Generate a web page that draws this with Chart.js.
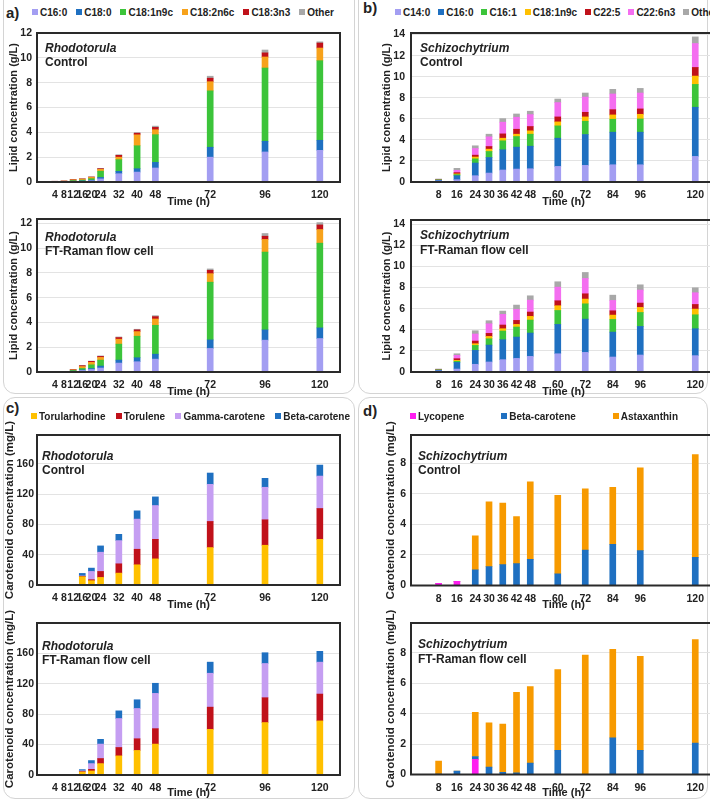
<!DOCTYPE html>
<html>
<head>
<meta charset="utf-8">
<title>Lipid and carotenoid time courses</title>
<script src="https://cdn.jsdelivr.net/npm/chart.js@4/dist/chart.umd.min.js"></script>
<style>
  body { margin: 0; width: 710px; height: 800px; overflow: hidden; background: #fff; position: relative;
         font-family: 'Liberation Sans', Arial, sans-serif; color: #222; }
  canvas { position: absolute; }
  .frame { position: absolute; border: 1px solid #d4d4d4; border-radius: 12px; }
  .plabel { position: absolute; font-weight: bold; font-size: 15px; line-height: 16px; }
  .legend { position: absolute; display: flex; justify-content: space-between; font-weight: bold;
            font-size: 10px; line-height: 12px; white-space: nowrap; }
  .legend .sw { display: inline-block; width: 6px; height: 6px; margin-right: 2px; vertical-align: 1px; }
</style>
</head>
<body>
<div class="frame" style="left:3px;top:-14px;width:350px;height:406px"></div>
<div class="frame" style="left:358px;top:-14px;width:348px;height:406px"></div>
<div class="frame" style="left:3px;top:397px;width:350px;height:400px"></div>
<div class="frame" style="left:358px;top:397px;width:348px;height:400px"></div>
<div class="plabel" style="left:6px;top:5px">a)</div>
<div class="plabel" style="left:363px;top:0px">b)</div>
<div class="plabel" style="left:6px;top:400px">c)</div>
<div class="plabel" style="left:363px;top:403px">d)</div>

<script>
// sampling times (h)
const rhoTimes = [4, 8, 12, 16, 20, 24, 32, 40, 48, 72, 96, 120];
const schTimes = [8, 16, 24, 30, 36, 42, 48, 60, 72, 84, 96, 120];

// y tick labels
const rhoLipidTicks = [0, 2, 4, 6, 8, 10, 12];
const schLipidTicks = [0, 2, 4, 6, 8, 10, 12, 14];
const rhoCaroTicks = [0, 40, 80, 120, 160];
const schCaroTicks = [0, 2, 4, 6, 8];

// a) Rhodotorula lipids (g/L)
const rhoFaNames = ['C16:0', 'C18:0', 'C18:1n9c', 'C18:2n6c', 'C18:3n3', 'Other'];
const rhoFaColors = ['#a39ef2', '#1f70c1', '#3cc43a', '#f7a21b', '#c0111a', '#a8a8a8'];
const rhoCtrlC16_0 = [0.02, 0.03, 0.05, 0.06, 0.1, 0.25, 0.67, 0.8, 1.13, 2.0, 2.42, 2.55];
const rhoCtrlC18_0 = [0.01, 0.01, 0.02, 0.03, 0.05, 0.12, 0.19, 0.27, 0.45, 0.8, 0.86, 0.81];
const rhoCtrlC18_1 = [0.01, 0.01, 0.04, 0.06, 0.12, 0.5, 0.94, 1.85, 2.23, 4.54, 5.9, 6.41];
const rhoCtrlC18_2 = [0.01, 0.02, 0.06, 0.08, 0.1, 0.15, 0.2, 0.88, 0.4, 0.74, 0.89, 1.02];
const rhoCtrlC18_3 = [0.01, 0.01, 0.02, 0.02, 0.03, 0.05, 0.15, 0.13, 0.19, 0.28, 0.33, 0.4];
const rhoCtrlOther = [0, 0, 0.01, 0.01, 0.02, 0.03, 0.05, 0.05, 0.1, 0.16, 0.23, 0.1];
const rhoFtC16_0 = [0.01, 0.02, 0.05, 0.12, 0.2, 0.32, 0.72, 0.83, 1.04, 1.9, 2.57, 2.7];
const rhoFtC18_0 = [0.005, 0.01, 0.02, 0.05, 0.08, 0.16, 0.24, 0.32, 0.4, 0.69, 0.83, 0.86];
const rhoFtC18_1 = [0.005, 0.01, 0.05, 0.12, 0.3, 0.48, 1.29, 1.74, 2.33, 4.66, 6.28, 6.84];
const rhoFtC18_2 = [0.005, 0.01, 0.05, 0.15, 0.2, 0.22, 0.4, 0.37, 0.51, 0.69, 1.02, 1.1];
const rhoFtC18_3 = [0.003, 0.005, 0.02, 0.07, 0.08, 0.08, 0.13, 0.14, 0.19, 0.27, 0.26, 0.37];
const rhoFtOther = [0, 0, 0.01, 0.02, 0.02, 0.04, 0.05, 0.05, 0.08, 0.11, 0.22, 0.19];

// b) Schizochytrium lipids (g/L)
const schFaNames = ['C14:0', 'C16:0', 'C16:1', 'C18:1n9c', 'C22:5', 'C22:6n3', 'Other'];
const schFaColors = ['#a39ef2', '#1f70c1', '#3cc43a', '#ffc000', '#c0111a', '#f46ef0', '#a8a8a8'];
const schCtrlC14_0 = [0.1, 0.22, 0.6, 0.85, 1.14, 1.23, 1.26, 1.48, 1.58, 1.64, 1.64, 2.43];
const schCtrlC16_0 = [0.08, 0.38, 1.2, 1.48, 1.92, 2.08, 2.14, 2.68, 2.93, 3.09, 3.09, 4.67];
const schCtrlC16_1 = [0.02, 0.1, 0.4, 0.57, 0.85, 1.01, 1.14, 1.17, 1.26, 1.23, 1.26, 2.17];
const schCtrlC18_1 = [0.01, 0.07, 0.17, 0.22, 0.25, 0.22, 0.32, 0.38, 0.41, 0.41, 0.44, 0.79];
const schCtrlC22_5 = [0.02, 0.12, 0.18, 0.25, 0.41, 0.47, 0.41, 0.47, 0.44, 0.5, 0.51, 0.82];
const schCtrlC22_6 = [0.03, 0.22, 0.63, 0.92, 1.11, 1.14, 1.13, 1.36, 1.45, 1.49, 1.51, 2.27];
const schCtrlOther = [0.02, 0.19, 0.26, 0.25, 0.34, 0.31, 0.32, 0.34, 0.38, 0.44, 0.44, 0.63];
const schFtC14_0 = [0.1, 0.28, 0.73, 0.95, 1.17, 1.29, 1.48, 1.73, 1.86, 1.42, 1.61, 1.55];
const schFtC16_0 = [0.08, 0.63, 1.32, 1.6, 1.89, 2.02, 2.21, 2.78, 3.15, 2.36, 2.71, 2.55];
const schFtC16_1 = [0.02, 0.1, 0.47, 0.6, 0.82, 0.95, 1.23, 1.32, 1.45, 1.2, 1.32, 1.32];
const schFtC18_1 = [0.01, 0.09, 0.16, 0.22, 0.22, 0.25, 0.35, 0.45, 0.45, 0.41, 0.48, 0.54];
const schFtC22_5 = [0.02, 0.16, 0.25, 0.29, 0.35, 0.38, 0.41, 0.47, 0.5, 0.41, 0.41, 0.44];
const schFtC22_6 = [0.03, 0.32, 0.67, 0.91, 1.01, 1.04, 1.13, 1.29, 1.45, 0.98, 1.23, 1.11];
const schFtOther = [0.02, 0.15, 0.31, 0.29, 0.31, 0.41, 0.41, 0.51, 0.57, 0.5, 0.5, 0.47];

// c) Rhodotorula carotenoids (mg/L)
const rhoCarNames = ['Torularhodine', 'Torulene', 'Gamma-carotene', 'Beta-carotene'];
const rhoCarColors = ['#ffc000', '#c0111a', '#c59ef2', '#1f70c1'];
const rhoCtrlTorularhodine = [0, 0, 0, 11, 5.7, 10, 15.7, 26.7, 34.5, 49.4, 52.5, 60.3];
const rhoCtrlTorulene = [0, 0, 0, 0.5, 1.3, 7.9, 12.3, 20.5, 25.8, 34.5, 33.6, 40.7];
const rhoCtrlGamma = [0, 0, 0, 0.5, 10.9, 25.4, 30.6, 39.8, 44.6, 49, 42.9, 42.8];
const rhoCtrlBeta = [0, 0, 0, 3.3, 4.4, 8.3, 8.3, 10.9, 11.4, 14.9, 11.8, 14.5];
const rhoFtTorularhodine = [0, 0, 0, 4, 5.3, 15, 25.2, 32.3, 40.7, 60.1, 69, 71.2];
const rhoFtTorulene = [0, 0, 0, 0.5, 2.2, 6.7, 11, 15.4, 20.3, 29.2, 32.7, 35.3];
const rhoFtGamma = [0, 0, 0, 1, 7.5, 19, 38.1, 39.8, 46.4, 44.6, 45, 42];
const rhoFtBeta = [0, 0, 0, 1.6, 4, 6.2, 10.1, 11.5, 13.3, 14.6, 14.2, 14.2];

// d) Schizochytrium carotenoids (mg/L)
const schCarNames = ['Lycopene', 'Beta-carotene', 'Astaxanthin'];
const schCarColors = ['#ff1ef0', '#1f70c1', '#f79a00'];
const schCtrlLycopene = [0.15, 0.28, 0, 0, 0, 0, 0, 0, 0, 0, 0, 0];
const schCtrlBeta = [0, 0, 1.02, 1.24, 1.37, 1.43, 1.71, 0.76, 2.32, 2.69, 2.28, 1.84];
const schCtrlAstaxanthin = [0, 0, 2.23, 4.23, 4.03, 3.08, 5.08, 5.14, 4.01, 3.73, 5.42, 6.73];
const schFtLycopene = [0, 0, 0.99, 0, 0, 0, 0, 0, 0, 0, 0, 0];
const schFtBeta = [0.03, 0.22, 0.19, 0.48, 0.15, 0.11, 0.75, 1.58, 0, 2.41, 1.58, 2.06];
const schFtAstaxanthin = [0.85, 0, 2.9, 2.92, 3.16, 5.28, 5.02, 5.31, 7.85, 5.81, 6.18, 6.8];

const FAMILY = "'Liberation Sans', Arial, sans-serif";
const NARROW = "'Liberation Sans Narrow', 'Arial Narrow', 'Liberation Sans', Arial, sans-serif";

// draws the black frame round the plot and the organism / condition text
const boxPlugin = {
  id: 'box',
  afterDatasetsDraw(chart, args, opts) {
    const { ctx, chartArea: a } = chart;
    ctx.save();
    ctx.strokeStyle = '#2a2a2a';
    ctx.lineWidth = 2;
    ctx.strokeRect(a.left, a.top, a.right - a.left, a.bottom - a.top);
    ctx.fillStyle = '#222';
    ctx.textBaseline = 'middle';
    ctx.font = 'italic bold 12px ' + FAMILY;
    ctx.fillText(opts.genus, a.left + opts.dx, a.top + opts.dy1);
    ctx.font = 'bold 12px ' + FAMILY;
    ctx.fillText(opts.cond, a.left + opts.dx, a.top + opts.dy2);
    ctx.restore();
  }
};

function makeLegend(names, colors, left, right, top) {
  const div = document.createElement('div');
  div.className = 'legend';
  div.style.left = left + 'px';
  div.style.top = top + 'px';
  div.style.width = (right - left) + 'px';
  names.forEach((n, i) => {
    const item = document.createElement('span');
    item.innerHTML = '<span class="sw" style="background:' + colors[i] + '"></span>' + n;
    div.appendChild(item);
  });
  document.body.appendChild(div);
}

function makePanel(p) {
  const cv = document.createElement('canvas');
  cv.width = p.cw;
  cv.height = p.ch;
  cv.style.left = p.cx + 'px';
  cv.style.top = p.cy + 'px';
  document.body.appendChild(cv);

  new Chart(cv, {
    type: 'bar',
    data: {
      datasets: p.series.map((s, i) => ({
        label: p.names[i],
        data: p.times.map((t, j) => ({ x: t, y: s[j] })),
        backgroundColor: p.colors[i],
        borderWidth: 0,
        barThickness: 6
      }))
    },
    options: {
      responsive: false,
      animation: false,
      layout: { padding: { top: p.box.t - p.cy, right: p.cx + p.cw - p.box.r, left: 0, bottom: 0 } },
      plugins: {
        legend: { display: false },
        tooltip: { enabled: false },
        box: { genus: p.genus, cond: p.cond, dx: p.tx, dy1: p.ty1, dy2: p.ty2 }
      },
      scales: {
        x: {
          type: 'linear',
          stacked: true,
          bounds: 'data',
          min: p.xmin,
          max: p.xmax,
          grid: { display: false, drawTicks: false, tickLength: 0 },
          border: { display: false },
          afterBuildTicks: (s) => { s.ticks = p.times.map(v => ({ value: v })); },
          afterFit: (s) => { s.height = p.cy + p.ch - p.box.b; },
          ticks: { autoSkip: false, maxRotation: 0, padding: 7, color: '#222',
                   font: { family: NARROW, size: 10.5, weight: 'bold' } },
          title: { display: true, text: 'Time (h)', color: '#222', padding: { top: 0, bottom: 0 },
                   font: { family: FAMILY, size: 11, weight: 'bold' } }
        },
        y: {
          stacked: true,
          bounds: 'data',
          min: 0,
          max: p.ymax,
          grid: { color: '#e3e3e3', drawTicks: false },
          border: { display: false },
          afterBuildTicks: (s) => { s.ticks = p.yticks.map(v => ({ value: v })); },
          afterFit: (s) => { s.width = p.box.l - p.cx; },
          ticks: { padding: p.tickPad, color: '#222', font: { family: NARROW, size: 10.5, weight: 'bold' } },
          title: { display: true, text: p.ytitle, color: '#222', padding: { top: p.titlePad, bottom: 0 },
                   font: { family: FAMILY, size: p.titleSize, weight: 'bold' } }
        }
      }
    },
    plugins: [boxPlugin]
  });
}

const lipidTitle = 'Lipid concentration (g/L)';
const caroTitle = 'Carotenoid concentration (mg/L)';

// a) top: Rhodotorula control
makePanel({
  cx: 0, cy: 20, cw: 355, ch: 189, box: { l: 37, t: 33, r: 340, b: 182 },
  times: rhoTimes, xmin: 1.7, xmax: 123.3, ymax: 12, yticks: rhoLipidTicks,
  names: rhoFaNames, colors: rhoFaColors,
  series: [rhoCtrlC16_0, rhoCtrlC18_0, rhoCtrlC18_1, rhoCtrlC18_2, rhoCtrlC18_3, rhoCtrlOther],
  ytitle: lipidTitle, titleSize: 11, titlePad: 7, tickPad: 5,
  genus: 'Rhodotorula', cond: 'Control', tx: 8, ty1: 16, ty2: 30
});
// a) bottom: Rhodotorula FT-Raman
makePanel({
  cx: 0, cy: 205, cw: 355, ch: 194, box: { l: 37, t: 219, r: 340, b: 372 },
  times: rhoTimes, xmin: 1.7, xmax: 123.3, ymax: 12.35, yticks: rhoLipidTicks,
  names: rhoFaNames, colors: rhoFaColors,
  series: [rhoFtC16_0, rhoFtC18_0, rhoFtC18_1, rhoFtC18_2, rhoFtC18_3, rhoFtOther],
  ytitle: lipidTitle, titleSize: 11, titlePad: 7, tickPad: 5,
  genus: 'Rhodotorula', cond: 'FT-Raman flow cell', tx: 8, ty1: 18.5, ty2: 33
});
// b) top: Schizochytrium control
makePanel({
  cx: 355, cy: 20, cw: 380, ch: 189, box: { l: 411, t: 33, r: 716, b: 182 },
  times: schTimes, xmin: 1.5, xmax: 123.5, ymax: 14.15, yticks: schLipidTicks,
  names: schFaNames, colors: schFaColors,
  series: [schCtrlC14_0, schCtrlC16_0, schCtrlC16_1, schCtrlC18_1, schCtrlC22_5, schCtrlC22_6, schCtrlOther],
  ytitle: lipidTitle, titleSize: 11, titlePad: 25, tickPad: 6,
  genus: 'Schizochytrium', cond: 'Control', tx: 9, ty1: 15.5, ty2: 30
});
// b) bottom: Schizochytrium FT-Raman
makePanel({
  cx: 355, cy: 205, cw: 380, ch: 194, box: { l: 411, t: 220, r: 716, b: 372 },
  times: schTimes, xmin: 1.5, xmax: 123.5, ymax: 14.4, yticks: schLipidTicks,
  names: schFaNames, colors: schFaColors,
  series: [schFtC14_0, schFtC16_0, schFtC16_1, schFtC18_1, schFtC22_5, schFtC22_6, schFtOther],
  ytitle: lipidTitle, titleSize: 11, titlePad: 25, tickPad: 6,
  genus: 'Schizochytrium', cond: 'FT-Raman flow cell', tx: 9, ty1: 16, ty2: 30.5
});
// c) top: Rhodotorula carotenoids control
makePanel({
  cx: 0, cy: 398, cw: 355, ch: 214, box: { l: 37, t: 435, r: 340, b: 585 },
  times: rhoTimes, xmin: 1.7, xmax: 123.3, ymax: 198, yticks: rhoCaroTicks,
  names: rhoCarNames, colors: rhoCarColors,
  series: [rhoCtrlTorularhodine, rhoCtrlTorulene, rhoCtrlGamma, rhoCtrlBeta],
  ytitle: caroTitle, titleSize: 11.5, titlePad: 3, tickPad: 3,
  genus: 'Rhodotorula', cond: 'Control', tx: 5, ty1: 21.5, ty2: 36
});
// c) bottom: Rhodotorula carotenoids FT-Raman
makePanel({
  cx: 0, cy: 596, cw: 355, ch: 204, box: { l: 37, t: 623, r: 340, b: 775 },
  times: rhoTimes, xmin: 1.7, xmax: 123.3, ymax: 200, yticks: rhoCaroTicks,
  names: rhoCarNames, colors: rhoCarColors,
  series: [rhoFtTorularhodine, rhoFtTorulene, rhoFtGamma, rhoFtBeta],
  ytitle: caroTitle, titleSize: 11.5, titlePad: 3, tickPad: 3,
  genus: 'Rhodotorula', cond: 'FT-Raman flow cell', tx: 5, ty1: 24, ty2: 38
});
// d) top: Schizochytrium carotenoids control
makePanel({
  cx: 355, cy: 398, cw: 380, ch: 214, box: { l: 411, t: 435, r: 716, b: 585.5 },
  times: schTimes, xmin: 1.5, xmax: 123.5, ymax: 9.85, yticks: schCaroTicks,
  names: schCarNames, colors: schCarColors,
  series: [schCtrlLycopene, schCtrlBeta, schCtrlAstaxanthin],
  ytitle: caroTitle, titleSize: 11.5, titlePad: 29, tickPad: 5,
  genus: 'Schizochytrium', cond: 'Control', tx: 7, ty1: 21.5, ty2: 36
});
// d) bottom: Schizochytrium carotenoids FT-Raman
makePanel({
  cx: 355, cy: 596, cw: 380, ch: 204, box: { l: 411, t: 623, r: 716, b: 774.5 },
  times: schTimes, xmin: 1.5, xmax: 123.5, ymax: 9.95, yticks: schCaroTicks,
  names: schCarNames, colors: schCarColors,
  series: [schFtLycopene, schFtBeta, schFtAstaxanthin],
  ytitle: caroTitle, titleSize: 11.5, titlePad: 29, tickPad: 5,
  genus: 'Schizochytrium', cond: 'FT-Raman flow cell', tx: 7, ty1: 21.5, ty2: 36.5
});

makeLegend(rhoFaNames, rhoFaColors, 32, 334, 7);
makeLegend(schFaNames, schFaColors, 395, 718, 7);
makeLegend(rhoCarNames, rhoCarColors, 31, 350, 411);
makeLegend(schCarNames, schCarColors, 410, 678, 411);
</script>
</body>
</html>
